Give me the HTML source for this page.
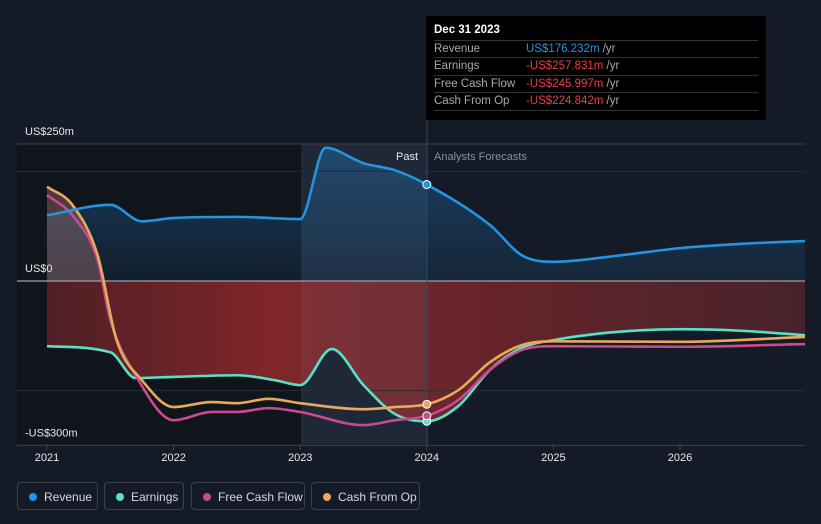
<!DOCTYPE html>
<html><head><meta charset="utf-8"><style>
body{margin:0;background:#151b26;font-family:"Liberation Sans",sans-serif;}
#wrap{position:relative;width:821px;height:524px;overflow:hidden;background:#151b26}
.leg{position:absolute;top:482px;height:28px;border:1px solid #3a414c;border-radius:4px;color:#d6d9de;font-size:12px;line-height:28px;box-sizing:border-box;padding-left:26px}
.leg i{position:absolute;left:11px;top:10px;width:8px;height:8px;border-radius:50%}
#tip{position:absolute;left:426px;top:16px;width:340px;height:104px;background:#000;color:#fff;font-size:11.5px}
#tip .r{position:absolute;left:8px;width:324px;height:17px;border-top:1px solid #333;line-height:17px;color:#a6a9ad}
#tip .r span{position:absolute;left:92px}
</style></head><body>
<div id="wrap">
<svg id="svg" width="821" height="524"></svg>
<div id="tip">
 <div style="position:absolute;left:8px;top:8px;font-weight:bold;font-size:11.5px">Dec 31 2023</div>
 <div class="r" style="top:24px">Revenue<span><b style="font-weight:normal;color:#2394df">US$176.232m</b> /yr</span></div>
 <div class="r" style="top:41px">Earnings<span><b style="font-weight:normal;color:#e8403f">-US$257.831m</b> /yr</span></div>
 <div class="r" style="top:59px">Free Cash Flow<span><b style="font-weight:normal;color:#e8403f">-US$245.997m</b> /yr</span></div>
 <div class="r" style="top:76px;border-bottom:1px solid #333">Cash From Op<span><b style="font-weight:normal;color:#e8403f">-US$224.842m</b> /yr</span></div>
</div>
<div class="leg" style="left:17px;width:81px"><i style="background:#2394df"></i>Revenue</div>
<div class="leg" style="left:104px;width:80px"><i style="background:#58e1c7"></i>Earnings</div>
<div class="leg" style="left:191px;width:114px"><i style="background:#c94a8f"></i>Free Cash Flow</div>
<div class="leg" style="left:311px;width:109px"><i style="background:#e9a95b"></i>Cash From Op</div>
</div>
<script>
const revX=[2021,2021.5,2021.75,2022,2022.5,2023,2023.2,2023.5,2023.75,2024,2024.5,2024.75,2025,2025.5,2026,2026.5,2027];
const revY=[120,139,109,115,117,113,243,215,202,176,102,47,35,46,60,68,73];
const earnX=[2021,2021.5,2021.7,2022,2022.5,2022.8,2023,2023.25,2023.5,2023.75,2024,2024.25,2024.5,2024.75,2025,2025.5,2026,2026.5,2027];
const earnY=[-119,-130,-177,-175,-172,-181,-190,-124,-190,-243,-256,-228,-162,-122,-108,-93,-88,-91,-99];
const fcfX=[2021,2021.2,2021.4,2021.5,2021.7,2022,2022.3,2022.5,2022.75,2023,2023.5,2023.75,2024,2024.25,2024.5,2024.75,2025,2026,2027];
const fcfY=[157,120,38,-71,-172,-254,-239,-239,-232,-239,-263,-254,-246,-217,-162,-126,-119,-120,-115];
const cfoX=[2021,2021.2,2021.4,2021.55,2021.75,2022,2022.3,2022.5,2022.75,2023,2023.5,2023.75,2024,2024.25,2024.5,2024.75,2025,2026,2027];
const cfoY=[172,139,47,-108,-181,-230,-221,-223,-215,-223,-234,-230,-225,-199,-148,-117,-110,-111,-102];
const yTicks=[250,0,-300];
const yTickLabels=["US$250m","US$0","-US$300m"];
const xTicks=[2021,2022,2023,2024,2025,2026];
const NS="http://www.w3.org/2000/svg";
const svg=document.getElementById('svg');
const X=v=>47+(v-2021)*126.6, Y=v=>281-v*0.548;
function el(t,a,p){const e=document.createElementNS(NS,t);for(const k in a)e.setAttribute(k,a[k]);(p||svg).appendChild(e);return e;}
function path(xs,ys){const p=xs.map((x,i)=>[Math.min(X(x),805),Y(ys[i])]);const n=p.length;
 const d=[],m=new Array(n);for(let i=0;i<n-1;i++)d.push((p[i+1][1]-p[i][1])/(p[i+1][0]-p[i][0]));
 m[0]=d[0];m[n-1]=d[n-2];for(let i=1;i<n-1;i++){m[i]=(d[i-1]*d[i]<=0)?0:(d[i-1]+d[i])/2;}
 for(let i=0;i<n-1;i++){if(d[i]===0){m[i]=m[i+1]=0;continue;}const a=m[i]/d[i],b=m[i+1]/d[i],s=a*a+b*b;if(s>9){const t=3/Math.sqrt(s);m[i]=t*a*d[i];m[i+1]=t*b*d[i];}}
 let s=`M${p[0][0]},${p[0][1]}`;
 for(let i=0;i<n-1;i++){const h=(p[i+1][0]-p[i][0])/3;s+=` C${p[i][0]+h},${p[i][1]+m[i]*h} ${p[i+1][0]-h},${p[i+1][1]-m[i+1]*h} ${p[i+1][0]},${p[i+1][1]}`;}
 return s;}
const defs=el('defs',{});
defs.innerHTML=`<linearGradient id="gb" x1="0" y1="0" x2="0" y2="1"><stop offset="0" stop-color="#1d6fb0" stop-opacity=".45"/><stop offset="1" stop-color="#1d6fb0" stop-opacity=".12"/></linearGradient>
<linearGradient id="gr" x1="0" y1="0" x2="1" y2="0"><stop offset="0" stop-color="#8f2a2e" stop-opacity=".5"/><stop offset=".3" stop-color="#a52c2e" stop-opacity=".75"/><stop offset=".6" stop-color="#a52c2e" stop-opacity=".55"/><stop offset="1" stop-color="#7a2a30" stop-opacity=".5"/></linearGradient>
<clipPath id="cpos"><rect x="0" y="0" width="821" height="281"/></clipPath>`;
el('rect',{x:17,y:144,width:284,height:300,fill:'#10141b'});
el('rect',{x:301,y:144,width:126,height:300,fill:'#1a2635',opacity:.6});
const rp=path(revX,revY);
el('path',{d:rp+` L805,281 L47,281 Z`,fill:'url(#gb)'});
const ep=path(earnX,earnY);
el('path',{d:ep+` L805,281 L47,281 Z`,fill:'url(#gr)'});
el('path',{d:path(cfoX,cfoY)+` L805,281 L47,281 Z`,fill:'#c08080',opacity:.35,'clip-path':'url(#cpos)'});
el('rect',{x:301,y:144,width:126,height:300,fill:'#8090b0',opacity:.07});
[250,200,-200,-300].forEach(v=>el('line',{x1:17,x2:805,y1:Y(v),y2:Y(v),stroke:v==250||v==-300?'#3a414c':'#262d38','stroke-width':1}));
el('line',{x1:17,x2:805,y1:281,y2:281,stroke:'#9aa0a8','stroke-width':1.2});
el('line',{x1:427,x2:427,y1:16,y2:444,stroke:'#2a4a66','stroke-width':1});
yTicks.forEach((v,i)=>{const t=el('text',{x:25,y:Y(v)-9,fill:'#e6e8eb','font-size':11,'font-family':'Liberation Sans'});t.textContent=yTickLabels[i];

});
xTicks.forEach(v=>{el('line',{x1:X(v),x2:X(v),y1:444,y2:450,stroke:'#3a414c'});const t=el('text',{x:X(v),y:461,fill:'#e6e8eb','font-size':11,'text-anchor':'middle','font-family':'Liberation Sans'});t.textContent=v;

});
let t=el('text',{x:418,y:160,fill:'#e6e8eb','font-size':11,'text-anchor':'end','font-family':'Liberation Sans'});t.textContent='Past';


t=el('text',{x:434,y:160,fill:'#8a9099','font-size':11,'font-family':'Liberation Sans'});t.textContent='Analysts Forecasts';


const series=[[earnX,earnY,'#58e1c7','earnings'],[fcfX,fcfY,'#c94a8f','free-cash-flow'],[cfoX,cfoY,'#e9a95b','cash-from-op'],[revX,revY,'#2394df','revenue']];
series.forEach(s=>{const p=el('path',{d:path(s[0],s[1]),fill:'none',stroke:s[2],'stroke-width':2.6});


const i=s[0].indexOf(2024);
const c=el('circle',{cx:X(2024),cy:Y(s[1][i]),r:4,fill:s[2],stroke:'#fff','stroke-width':1});

});
</script>
</body></html>
